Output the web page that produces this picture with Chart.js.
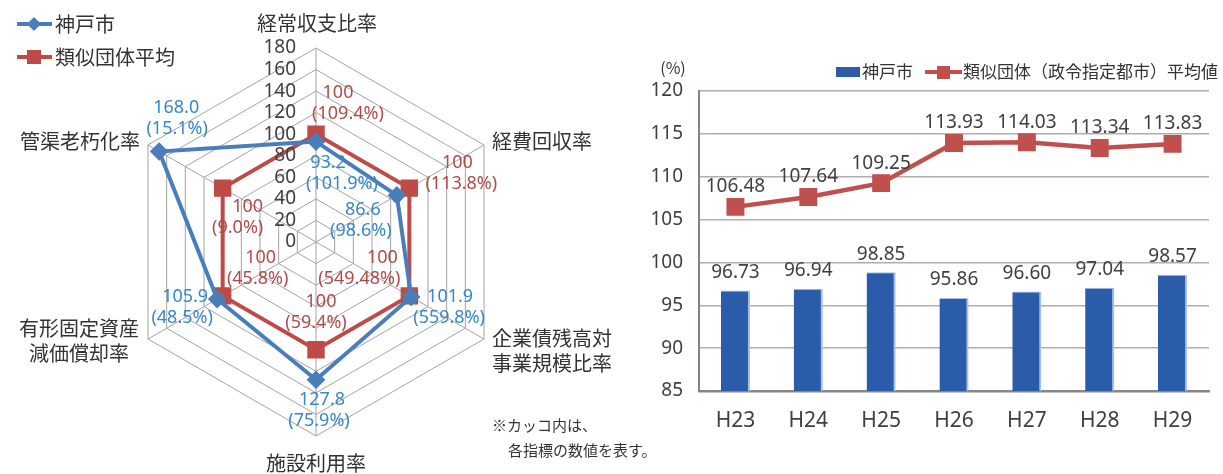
<!DOCTYPE html>
<html>
<head>
<meta charset="utf-8">
<script src="https://cdn.jsdelivr.net/npm/chart.js@4"></script>
<style>
    body { margin: 0; background: #fff; }
    #wrap { position: relative; width: 1223px; height: 474px; overflow: hidden; }
    #radarBox { position: absolute; left: 0; top: 0; width: 700px; height: 474px; }
    #barBox { position: absolute; left: 640px; top: 0; width: 583px; height: 474px; }
</style>
</head>
<body>
<div id="wrap">
    <div id="radarBox"><canvas id="radarChart"></canvas></div>
    <div id="barBox"><canvas id="barChart"></canvas></div>
</div>
<script>
// radar (index, average = 100)
var radarLabels = [['経常収支比率'], ['経費回収率'], ['企業債残高対', '事業規模比率'], ['施設利用率'], ['有形固定資産', '減価償却率'], ['管渠老朽化率']];
var kobeIndex = [93.2, 86.6, 101.9, 127.8, 105.9, 168.0];
var avgIndex = [100, 100, 100, 100, 100, 100];
var kobeRaw = ['101.9%', '98.6%', '559.8%', '75.9%', '48.5%', '15.1%'];
var avgRaw = ['109.4%', '113.8%', '549.48%', '59.4%', '45.8%', '9.0%'];
var radarTicks = [0, 20, 40, 60, 80, 100, 120, 140, 160, 180];

// bar + line (経常収支比率 推移)
var years = ['H23', 'H24', 'H25', 'H26', 'H27', 'H28', 'H29'];
var kobeRate = [96.73, 96.94, 98.85, 95.86, 96.60, 97.04, 98.57];
var avgRate = [106.48, 107.64, 109.25, 113.93, 114.03, 113.34, 113.83];

var FONT = "'Noto Sans', 'Noto Sans CJK JP', sans-serif";
var JP = "'Noto Sans CJK JP', sans-serif";
Chart.defaults.font.family = FONT;

var blue = '#4a7ebb', red = '#be4b48';
var blueText = '#3a87c8', redText = '#ad4d4b';

// label offsets: [dx line1, dx line2, dy line1] from the point
var kobeOff = [[12, 26, 21], [-34, -36, 15], [39, 38, 0], [6, 3, 20], [-32, -35, -2], [17, 18, -44]];
var avgOff = [[22, 32, -41], [48, 52, -25], [-27, -50, -38], [5, 0, -48], [38, 35, -38], [25, 15, 19]];
// axis label placement from outer vertex: [dx, dy, align]
var axisPos = [[1, -25, 'center'], [8, -4, 'left'], [8, -1, 'left'], [0, 27, 'center'], [-69, -11, 'center'], [-8, -4, 'right']];

function txt(ctx, s, x, y, font, color, align) {
    ctx.font = font;
    ctx.fillStyle = color;
    ctx.textAlign = align || 'center';
    ctx.textBaseline = 'middle';
    ctx.fillText(s, x, y);
}

var radarText = {
    id: 'radarText',
    afterDatasetsDraw: function (chart) {
        var ctx = chart.ctx;
        var r = chart.scales.r;
        ctx.save();
        // tick labels
        radarTicks.forEach(function (v) {
            txt(ctx, String(v), r.xCenter - 20, r.yCenter - r.getDistanceFromCenterForValue(v), '19px ' + FONT, '#404040', 'right');
        });
        // axis names
        radarLabels.forEach(function (lines, i) {
            var p = r.getPointPositionForValue(i, 180);
            var o = axisPos[i];
            lines.forEach(function (s, k) {
                txt(ctx, s, p.x + o[0], p.y + o[1] + k * 25, '20px ' + JP, '#333', o[2]);
            });
        });
        // value labels
        var sets = [[kobeIndex, kobeRaw, kobeOff, blueText, 1], [avgIndex, avgRaw, avgOff, redText, 0]];
        sets.forEach(function (s) {
            s[0].forEach(function (v, i) {
                var p = r.getPointPositionForValue(i, v);
                var o = s[2][i];
                txt(ctx, v.toFixed(s[4]), p.x + o[0], p.y + o[2], '18px ' + FONT, s[3]);
                txt(ctx, '(' + s[1][i] + ')', p.x + o[1], p.y + o[2] + 21, '18px ' + FONT, s[3]);
            });
        });
        // legend
        var items = [[chart.data.datasets[0], 24, 'diamond'], [chart.data.datasets[1], 57, 'square']];
        items.forEach(function (it) {
            var y = it[1];
            ctx.strokeStyle = it[0].borderColor;
            ctx.fillStyle = it[0].borderColor;
            ctx.lineWidth = 4;
            ctx.beginPath();
            ctx.moveTo(17, y);
            ctx.lineTo(52, y);
            ctx.stroke();
            ctx.beginPath();
            if (it[2] == 'diamond') {
                ctx.moveTo(34, y - 7); ctx.lineTo(41, y); ctx.lineTo(34, y + 7); ctx.lineTo(27, y);
            } else {
                ctx.rect(27, y - 7, 14, 14);
            }
            ctx.fill();
            txt(ctx, it[0].label, 55, y, '20px ' + JP, '#333', 'left');
        });
        // note
        txt(ctx, '※カッコ内は、', 492, 425, '15px ' + JP, '#333', 'left');
        txt(ctx, '各指標の数値を表す。', 508, 450, '15px ' + JP, '#333', 'left');
        ctx.restore();
    }
};

new Chart(document.getElementById('radarChart'), {
    type: 'radar',
    data: {
        labels: radarLabels,
        datasets: [
            {
                label: '神戸市', data: kobeIndex, borderColor: blue, backgroundColor: blue,
                borderWidth: 4, pointStyle: 'rectRot', pointRadius: 6.5, fill: false
            },
            {
                label: '類似団体平均', data: avgIndex, borderColor: red, backgroundColor: red,
                borderWidth: 4, pointStyle: 'rect', pointRadius: 9.5, fill: false
            }
        ]
    },
    options: {
        responsive: true,
        maintainAspectRatio: false,
        animation: false,
        layout: { padding: { left: 122, right: 190, top: 48, bottom: 38 } },
        plugins: { legend: { display: false }, tooltip: { enabled: false } },
        scales: {
            r: {
                min: 0, max: 180,
                ticks: { display: false, stepSize: 20 },
                pointLabels: { display: false },
                grid: { color: '#a3a3a3', lineWidth: 1 },
                angleLines: { color: '#a3a3a3', lineWidth: 1 }
            }
        }
    },
    plugins: [radarText]
});

var barText = {
    id: 'barText',
    afterDatasetsDraw: function (chart) {
        var ctx = chart.ctx;
        ctx.save();
        chart.data.datasets.forEach(function (ds, i) {
            var meta = chart.getDatasetMeta(i);
            var up = ds.type == 'bar' ? 18 : 20;
            meta.data.forEach(function (el, k) {
                txt(ctx, ds.data[k].toFixed(2), el.x, el.y - up, '19px ' + FONT, '#404040');
            });
        });
        // legend
        ctx.fillStyle = '#2a5caa';
        ctx.fillRect(196, 67, 24, 10);
        txt(ctx, '神戸市', 222, 72, '17px ' + JP, '#333', 'left');
        ctx.strokeStyle = '#c0504d';
        ctx.fillStyle = '#c0504d';
        ctx.lineWidth = 4;
        ctx.beginPath();
        ctx.moveTo(285, 72);
        ctx.lineTo(322, 72);
        ctx.stroke();
        ctx.fillRect(297, 66, 13, 13);
        txt(ctx, '類似団体（政令指定都市）平均値', 323, 72, '17px ' + JP, '#333', 'left');
        txt(ctx, '(%)', 33, 68, '16px ' + JP, '#333', 'center');
        ctx.restore();
    }
};

new Chart(document.getElementById('barChart'), {
    data: {
        labels: years,
        datasets: [
            {
                type: 'line', label: '類似団体（政令指定都市）平均値', data: avgRate,
                borderColor: '#c0504d', backgroundColor: '#c0504d', borderWidth: 4.5,
                pointStyle: 'rect', pointRadius: 9.5, order: 0
            },
            {
                type: 'bar', label: '神戸市', data: kobeRate, backgroundColor: '#2a5caa',
                borderColor: '#a6c1e6', borderWidth: { right: 2, top: 1, left: 0, bottom: 0 },
                barPercentage: 0.4, categoryPercentage: 1, order: 1
            }
        ]
    },
    options: {
        responsive: true,
        maintainAspectRatio: false,
        animation: false,
        layout: { padding: { left: 0, right: 3, top: 91, bottom: 0 } },
        plugins: { legend: { display: false }, tooltip: { enabled: false } },
        scales: {
            x: {
                grid: { display: false, drawTicks: false },
                border: { color: '#8c8585', width: 2.5 },
                ticks: { color: '#404040', font: { size: 21 }, padding: 17 },
                afterFit: function (s) { s.height = 83; }
            },
            y: {
                min: 85, max: 120,
                ticks: { stepSize: 5, color: '#404040', font: { size: 19 }, padding: 16 },
                grid: { color: '#b5abab', lineWidth: 1.5, drawTicks: false },
                border: { color: '#8c7f7f', width: 2 },
                afterFit: function (s) { s.width = 59; }
            }
        }
    },
    plugins: [barText]
});
</script>
</body>
</html>
